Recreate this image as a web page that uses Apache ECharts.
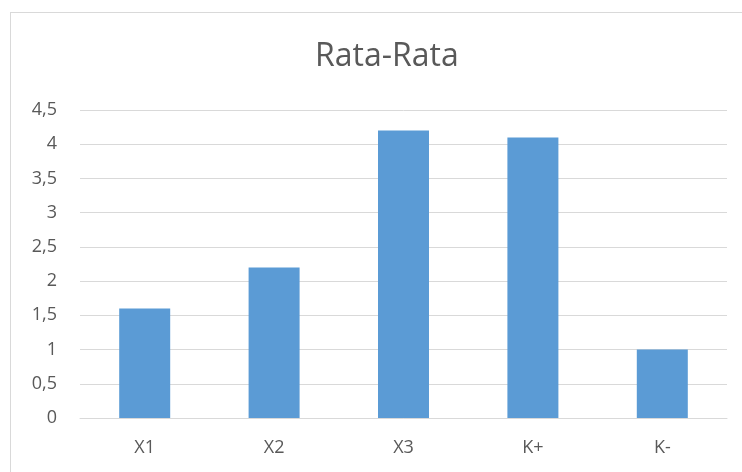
<!DOCTYPE html>
<html>
<head>
<meta charset="utf-8">
<script src="https://cdn.jsdelivr.net/npm/echarts@6/dist/echarts.min.js"></script>
<style>
  html, body { margin: 0; padding: 0; background: #fff; }
  #frame { position: absolute; left: 10px; top: 12px; width: 760px; height: 480px; border: 1px solid #d9d9d9; box-sizing: border-box; }
  #main { position: absolute; left: 0; top: 0; width: 742px; height: 472px; }
</style>
</head>
<body>
<div id="frame"></div>
<div id="main"></div>
<script>
  var categories = ['X1', 'X2', 'X3', 'K+', 'K-'];
  var values = [1.6, 2.2, 4.2, 4.1, 1.0];
  var textColor = '#595959';

  var myChart = echarts.init(document.getElementById('main'));
  var option = {
    animation: false,
    title: {
      text: 'Rata-Rata',
      left: 310,
      top: 36,
      textStyle: { fontFamily: 'Open Sans', fontSize: 32, fontWeight: 'normal', color: textColor }
    },
    grid: { left: 80, right: 15, top: 110, bottom: 54 },
    xAxis: {
      type: 'category',
      data: categories,
      axisLine: { lineStyle: { color: '#d9d9d9' } },
      axisTick: { show: false },
      axisLabel: { color: textColor, fontFamily: 'Open Sans', fontSize: 18, margin: 21 }
    },
    yAxis: {
      type: 'value',
      min: 0,
      max: 4.5,
      interval: 0.5,
      axisLine: { show: false },
      axisTick: { show: false },
      splitLine: { lineStyle: { color: '#d9d9d9', width: 1 } },
      axisLabel: {
        color: textColor, fontFamily: 'Open Sans', fontSize: 18, margin: 23,
        formatter: function (v) { return String(v).replace('.', ','); }
      }
    },
    series: [{
      type: 'bar',
      data: values,
      barWidth: 51,
      itemStyle: { color: '#5b9bd5' }
    }]
  };
  myChart.setOption(option);
</script>
</body>
</html>
